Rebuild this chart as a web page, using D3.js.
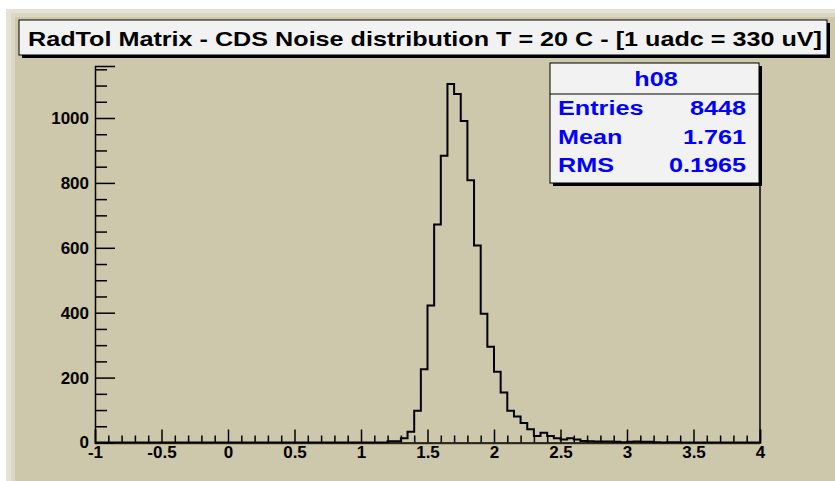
<!DOCTYPE html>
<html>
<head>
<meta charset="utf-8">
<script src="https://cdn.jsdelivr.net/npm/d3@7"></script>
<style>
  html, body { margin: 0; padding: 0; background: #ffffff; }
  svg { display: block; }
  text { font-family: "Liberation Sans", Arial, Helvetica, sans-serif; font-weight: bold; }
</style>
</head>
<body>
<svg id="chart" width="835" height="481"></svg>
<script>
// Histogram h08: lower bin edges (uadc) and entries per bin, 0.05 uadc bins on [-1, 4]
const binLow = [1.20, 1.25, 1.30, 1.35, 1.40, 1.45, 1.50, 1.55, 1.60, 1.65,
                1.70, 1.75, 1.80, 1.85, 1.90, 1.95, 2.00, 2.05, 2.10, 2.15,
                2.20, 2.25, 2.30, 2.35, 2.40, 2.45, 2.50, 2.55, 2.60, 2.65,
                2.70, 2.75, 2.80, 2.85, 2.90, 2.95, 3.00, 3.05, 3.10, 3.15,
                3.20, 3.25, 3.30, 3.35, 3.40];
const binCount = [4, 4, 13, 33, 98, 226, 422, 672, 884, 1105,
                  1074, 991, 808, 607, 397, 295, 218, 154, 98, 80,
                  60, 41, 20, 30, 20, 13, 9, 13, 9, 5,
                  4, 3, 3, 3, 2, 1, 2, 3, 2, 2,
                  1, 0, 1, 1, 0];
const xDomain = [-1, 4];

// Axis ticks
const xTicks = [-1, -0.5, 0, 0.5, 1, 1.5, 2, 2.5, 3, 3.5, 4];
const xTickLabels = ["-1", "-0.5", "0", "0.5", "1", "1.5", "2", "2.5", "3", "3.5", "4"];
const yTicks = [0, 200, 400, 600, 800, 1000];
const yTickLabels = ["0", "200", "400", "600", "800", "1000"];

// Title and statistics box
const titleText = "RadTol Matrix - CDS Noise distribution T = 20 C - [1 uadc = 330 uV]";
const statsName = "h08";
const statsLabels = ["Entries", "Mean", "RMS"];
const statsValues = ["8448", "1.761", "0.1965"];

const svg = d3.select("#chart");
const W = 835, H = 481;
const bg = "#cdc7ab";

// Pad with a raised bevel on its top/left edges
svg.append("rect").attr("x", 0).attr("y", 0).attr("width", W).attr("height", H).attr("fill", "#ffffff");
svg.append("rect").attr("x", 6).attr("y", 9).attr("width", W - 6).attr("height", H - 9).attr("fill", "#e6e2d2");
svg.append("rect").attr("x", 11).attr("y", 13).attr("width", W - 11).attr("height", H - 13).attr("fill", "#dcd7c2");
svg.append("rect").attr("x", 15).attr("y", 17).attr("width", W - 15).attr("height", H - 17).attr("fill", bg);

// Frame
const frame = { left: 95, right: 760, top: 66, bottom: 442.5 };

const x = d3.scaleLinear().domain(xDomain).range([frame.left, frame.right]);
const yMax = d3.max(binCount) * 1.05;
const y = d3.scaleLinear().domain([0, yMax]).range([frame.bottom, frame.top]);

// Histogram outline as a step line
const binWidth = 0.05;
const stepPts = [[xDomain[0], 0]]
  .concat(binLow.map((b, i) => [b, binCount[i]]))
  .concat([[binLow[binLow.length - 1] + binWidth, 0], [xDomain[1], 0]]);
const line = d3.line()
  .x(d => x(d[0]))
  .y(d => y(d[1]))
  .curve(d3.curveStepAfter);

svg.append("path")
  .attr("d", line(stepPts))
  .attr("fill", "none")
  .attr("stroke", "#000")
  .attr("stroke-width", 2)
  .attr("stroke-linejoin", "miter");

// Frame right edge and bottom shading
svg.append("line")
  .attr("x1", frame.right).attr("x2", frame.right)
  .attr("y1", frame.top).attr("y2", frame.bottom)
  .attr("stroke", "#000").attr("stroke-width", 1.5);
svg.append("line")
  .attr("x1", frame.left).attr("x2", frame.right)
  .attr("y1", frame.bottom + 1.5).attr("y2", frame.bottom + 1.5)
  .attr("stroke", "#8c8350").attr("stroke-width", 1);

// X axis: major and minor ticks pointing into the frame
const xMinor = d3.range(-10, 41).map(v => v / 10).filter(v => !xTicks.some(t => Math.abs(t - v) < 1e-9));
const gxMinor = svg.append("g").attr("transform", `translate(0,${frame.bottom})`)
  .call(d3.axisBottom(x).tickValues(xMinor).tickSize(-7).tickFormat(""));
const gx = svg.append("g").attr("transform", `translate(0,${frame.bottom})`)
  .call(d3.axisBottom(x).tickValues(xTicks).tickSize(-13).tickPadding(5)
    .tickFormat((d, i) => xTickLabels[i]));

// Y axis: major and minor ticks pointing into the frame
const yMinor = d3.range(0, yMax, 50).filter(v => !yTicks.includes(v));
const gyMinor = svg.append("g").attr("transform", `translate(${frame.left},0)`)
  .call(d3.axisLeft(y).tickValues(yMinor).tickSize(-12).tickFormat(""));
const gy = svg.append("g").attr("transform", `translate(${frame.left},0)`)
  .call(d3.axisLeft(y).tickValues(yTicks).tickSize(-20).tickPadding(6)
    .tickFormat((d, i) => yTickLabels[i]));

[gxMinor, gx, gyMinor, gy].forEach(g => {
  g.selectAll(".domain").attr("stroke", "#000").attr("stroke-width", 1.5);
  g.selectAll(".tick line").attr("stroke", "#000").attr("stroke-width", 1.5);
});
gx.selectAll(".tick text").attr("font-size", 17).attr("fill", "#000")
  .attr("font-family", "'Liberation Sans', Arial, sans-serif").attr("font-weight", "bold")
  .attr("dy", "0.62em");
gy.selectAll(".tick text").attr("font-size", 17).attr("fill", "#000")
  .attr("font-family", "'Liberation Sans', Arial, sans-serif").attr("font-weight", "bold");
gyMinor.select(".domain").remove();
gxMinor.select(".domain").remove();

// Title box with drop shadow
const tb = { x: 19, y: 20, w: 808, h: 35 };
svg.append("rect").attr("x", tb.x + 3).attr("y", tb.y + 3).attr("width", tb.w).attr("height", tb.h).attr("fill", "#000");
svg.append("rect").attr("x", tb.x).attr("y", tb.y).attr("width", tb.w).attr("height", tb.h)
  .attr("fill", "#f2f2f2").attr("stroke", "#000").attr("stroke-width", 1);
svg.append("text")
  .attr("x", 28).attr("y", 45.5)
  .attr("font-size", 21)
  .attr("fill", "#000")
  .attr("textLength", 794)
  .attr("lengthAdjust", "spacingAndGlyphs")
  .text(titleText);

// Statistics box with drop shadow
const sb = { x: 550, y: 63, w: 209, h: 120 };
svg.append("rect").attr("x", sb.x + 3).attr("y", sb.y + 3).attr("width", sb.w).attr("height", sb.h).attr("fill", "#000");
svg.append("rect").attr("x", sb.x).attr("y", sb.y).attr("width", sb.w).attr("height", sb.h)
  .attr("fill", "#f2f2f2").attr("stroke", "#000").attr("stroke-width", 1);
svg.append("line").attr("x1", sb.x).attr("x2", sb.x + sb.w).attr("y1", 94).attr("y2", 94)
  .attr("stroke", "#000").attr("stroke-width", 1);

// Stats text uses a slightly wide face: stretch horizontally around each anchor
const stretch = 1.2;
function statText(xPos, yPos, anchor, str) {
  svg.append("g")
    .attr("transform", `translate(${xPos},${yPos}) scale(${stretch},1)`)
    .append("text")
    .attr("x", 0).attr("y", 0)
    .attr("text-anchor", anchor)
    .attr("font-size", 21).attr("fill", "#0000ff")
    .text(str);
}
statText(656, 86, "middle", statsName);
const rowY = [115, 144, 172];
statsLabels.forEach((lab, i) => {
  statText(558, rowY[i], "start", lab);
  statText(746, rowY[i], "end", statsValues[i]);
});
</script>
</body>
</html>
